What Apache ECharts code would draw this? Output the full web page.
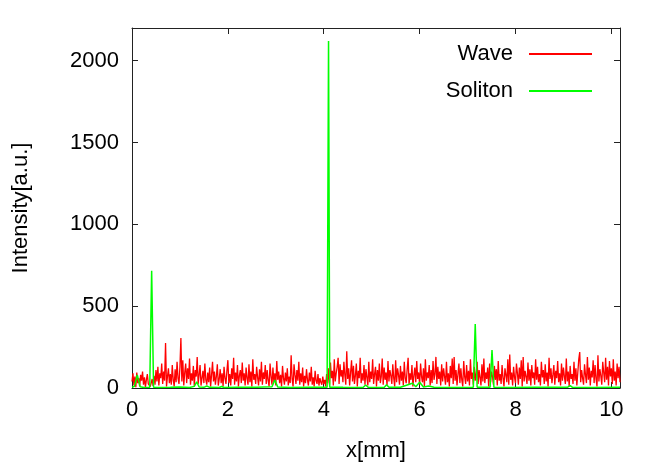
<!DOCTYPE html>
<html>
<head>
<meta charset="utf-8">
<script src="https://cdn.jsdelivr.net/npm/echarts@6/dist/echarts.min.js"></script>
<style>
  html, body { margin: 0; padding: 0; background: #fff; }
  #chart { width: 664px; height: 465px; }
</style>
</head>
<body>
<div id="chart"></div>
<script>
// x[mm] sampling step of the wave trace
var waveStep = 0.02;

// Wave intensity (x = 0 .. 10.18)
var waveValues = [
  40, 90, 15, 70, 5, 95, 30, 60, 10, 80, 45, 100, 20, 65, 5, 50, 85, 25, 35, 8,
  30, 55, 12, 75, 20, 110, 40, 130, 15, 90, 60, 150, 25, 100, 45, 275, 10, 70, 120, 30,
  85, 20, 140, 50, 10, 115, 35, 160, 60, 25, 130, 305, 40, 170, 15, 95, 150, 30, 120, 55,
  180, 20, 90, 45, 135, 10, 110, 70, 190, 25, 80, 140, 15, 60, 105, 30, 150, 50, 20, 95,
  35, 125, 10, 80, 160, 40, 100, 20, 70, 145, 15, 55, 115, 30, 90, 10, 130, 60, 25, 105,
  170, 30, 85, 15, 120, 55, 185, 20, 95, 40, 140, 10, 75, 110, 30, 155, 45, 90, 15, 125,
  60, 20, 145, 35, 100, 10, 175, 50, 85, 25, 130, 65, 15, 115, 40, 160, 20, 95, 55, 140,
  25, 110, 45, 10, 150, 70, 20, 125, 35, 90, 15, 165, 50, 100, 30, 80, 10, 135, 60, 20,
  95, 40, 120, 15, 70, 30, 200, 55, 10, 145, 80, 25, 110, 45, 160, 20, 90, 35, 125, 10,
  75, 30, 115, 50, 15, 95, 40, 130, 20, 65, 10, 105, 45, 25, 85, 15, 60, 35, 20, 70,
  25, 50, 10, 85, 30, 120, 20, 155, 60, 105, 15, 175, 40, 90, 130, 185, 25, 145, 70, 110,
  35, 160, 80, 20, 225, 55, 120, 15, 95, 170, 40, 135, 25, 75, 150, 10, 105, 60, 185, 30,
  90, 45, 140, 20, 115, 65, 15, 160, 35, 100, 55, 175, 25, 85, 130, 10, 110, 45, 150, 30,
  70, 180, 20, 125, 50, 95, 15, 165, 40, 110, 75, 25, 145, 60, 10, 170, 35, 120, 80, 20,
  135, 45, 100, 15, 160, 60, 30, 115, 185, 20, 90, 50, 140, 10, 75, 125, 35, 165, 55, 95,
  20, 150, 70, 35, 120, 10, 175, 45, 95, 60, 140, 15, 110, 30, 165, 50, 85, 190, 25, 130,
  55, 100, 15, 145, 40, 120, 70, 20, 160, 35, 90, 10, 135, 60, 180, 25, 190, 45, 110, 15,
  85, 150, 30, 120, 50, 10, 165, 70, 25, 140, 40, 105, 15, 175, 55, 95, 20, 130, 45, 90,
  160, 25, 110, 65, 15, 145, 40, 180, 30, 95, 55, 125, 10, 150, 35, 100, 70, 20, 135, 50,
  115, 15, 165, 45, 85, 25, 140, 60, 10, 120, 80, 35, 175, 20, 205, 50, 95, 15, 130, 65,
  30, 150, 90, 20, 125, 55, 170, 10, 190, 40, 105, 70, 25, 155, 45, 115, 15, 140, 60, 95,
  20, 175, 50, 130, 35, 85, 15, 160, 65, 110, 25, 145, 40, 95, 10, 185, 55, 120, 30, 80,
  140, 20, 105, 60, 165, 35, 90, 15, 150, 45, 125, 70, 25, 180, 40, 100, 10, 135, 55, 85,
  25, 160, 45, 120, 15, 95, 175, 220, 35, 110, 60, 20, 145, 80, 30, 190, 50, 125, 15, 105,
  65, 170, 30, 140, 55, 10, 200, 40, 115, 75, 20, 160, 95, 35, 185, 50, 130, 15, 165, 70,
  120, 25, 175, 45, 100, 15, 150, 60, 130, 35
];

// Soliton intensity
var solitonX = [0, 0.05, 0.11, 0.17, 0.25, 0.37, 0.41, 0.45, 0.55, 0.8, 1.0, 1.2, 1.3, 1.35, 1.4,
  1.5, 1.56, 1.62, 1.82, 1.87, 1.92, 2.2, 2.6, 2.92, 2.98, 3.04, 3.3, 3.7, 4.07, 4.1, 4.125,
  4.4, 4.82, 4.875, 4.93, 5.26, 5.31, 5.36, 5.6, 5.85, 5.92, 6.0, 6.08, 6.19, 6.3, 6.7, 7.12,
  7.16, 7.2, 7.47, 7.51, 7.55, 7.9, 8.4, 9.09, 9.14, 9.19, 9.6, 10.18];
var solitonY = [5, 10, 80, 8, 3, 5, 716, 5, 3, 4, 6, 3, 10, 38, 6,
  4, 12, 4, 3, 9, 3, 5, 4, 8, 49, 6, 3, 4, 5, 2120, 5,
  4, 3, 18, 4, 3, 20, 4, 5, 29, 8, 35, 6, 12, 4, 3, 5,
  391, 4, 5, 232, 4, 3, 4, 5, 15, 4, 3, 5];

var waveData = waveValues.map(function (v, i) { return [+(i * waveStep).toFixed(3), v]; });
var solitonData = solitonX.map(function (x, i) { return [x, solitonY[i]]; });

var font = 'Liberation Sans, Arial, Helvetica, sans-serif';
var fontSize = 22;
var frameColor = '#222';

function xAxis(pos, labels) {
  return {
    type: 'value', position: pos, min: 0, max: 10.18, interval: 2,
    axisLine: { onZero: false, lineStyle: { color: frameColor, width: 1 } },
    axisTick: { inside: true, length: 6, lineStyle: { color: frameColor } },
    axisLabel: {
      show: labels, showMaxLabel: false, margin: 11, color: '#000',
      fontSize: fontSize, fontFamily: font,
      formatter: function (v) { return String(v); }
    },
    splitLine: { show: false }
  };
}

function yAxis(pos, labels) {
  return {
    type: 'value', position: pos, min: 0, max: 2200, interval: 500,
    axisLine: { show: true, onZero: false, lineStyle: { color: frameColor, width: 1 } },
    axisTick: { show: true, inside: true, length: 6, lineStyle: { color: frameColor } },
    axisLabel: {
      show: labels, showMaxLabel: false, margin: 13, color: '#000',
      fontSize: fontSize, fontFamily: font,
      formatter: function (v) { return String(v); }
    },
    splitLine: { show: false }
  };
}

var bottom = xAxis('bottom', true);
bottom.name = 'x[mm]';
bottom.nameLocation = 'middle';
bottom.nameGap = 52;
bottom.nameTextStyle = { color: '#000', fontSize: fontSize, fontFamily: font };

var left = yAxis('left', true);
left.name = 'Intensity[a.u.]';
left.nameLocation = 'middle';
left.nameGap = 100;
left.nameTextStyle = { color: '#000', fontSize: fontSize, fontFamily: font };

function legendItem(name, top) {
  return {
    data: [name], right: 67, top: top, align: 'right', orient: 'vertical',
    icon: 'rect', itemWidth: 63, itemHeight: 2,
    textStyle: { color: '#000', fontSize: fontSize, fontFamily: font, padding: [0, 11, 0, 0] },
    selectedMode: false
  };
}

var chart = echarts.init(document.getElementById('chart'));
chart.setOption({
  animation: false,
  backgroundColor: '#fff',
  grid: { left: 132, right: 44, top: 28, bottom: 77, containLabel: false, outerBoundsMode: 'none' },
  legend: [legendItem('Wave', 38), legendItem('Soliton', 75)],
  xAxis: [bottom, xAxis('top', false)],
  yAxis: [left, yAxis('right', false)],
  series: [
    {
      name: 'Wave', type: 'line', data: waveData, showSymbol: false,
      lineStyle: { color: '#ff0000', width: 1.3 }, itemStyle: { color: '#ff0000' }
    },
    {
      name: 'Soliton', type: 'line', data: solitonData, showSymbol: false,
      lineStyle: { color: '#00ff00', width: 1.5 }, itemStyle: { color: '#00ff00' }
    }
  ]
});
</script>
</body>
</html>
